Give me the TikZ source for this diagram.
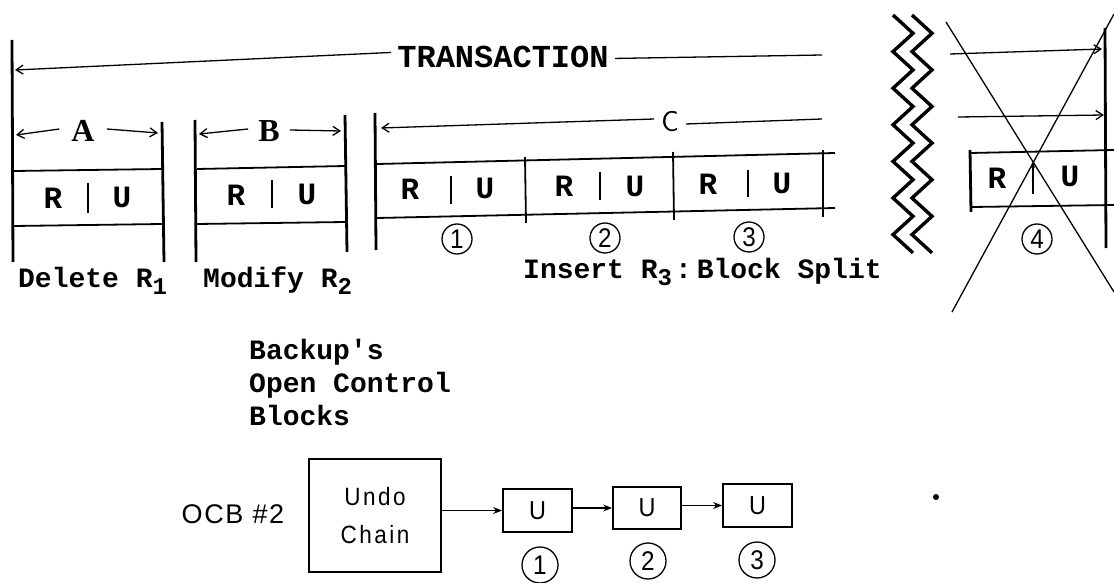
\documentclass[tikz,border=0pt]{standalone}
\usepackage{fontspec}
\setmonofont{Liberation Mono}
\newfontfamily\condfont[FakeStretch=0.9,LetterSpace=10]{Liberation Sans}
\newfontfamily\cnfont[FakeStretch=0.9]{Liberation Sans}
\newfontfamily\ocbfont[LetterSpace=6]{Liberation Sans}
\newfontfamily\serifA{Liberation Serif}
\usetikzlibrary{arrows.meta,shapes.geometric}
\newcommand{\sbs}[1]{\raisebox{-7pt}{\fontsize{24}{24}\selectfont #1}}
\tikzset{
  heavy/.style={line width=2.8pt},
  thinl/.style={line width=1.3pt},
  boxl/.style={line width=1.8pt},
  barb/.style={thinl,-{Straight Barb[length=7pt,width=9pt]}},
  tt/.style={font=\fontsize{28}{32}\selectfont\ttfamily\bfseries, inner sep=0pt},
  big/.style={font=\fontsize{32}{34}\selectfont\serifA\bfseries, inner ysep=2pt, inner xsep=12pt},
  ru/.style={font=\fontsize{31}{32}\selectfont\ttfamily\bfseries, inner sep=0pt},
  num/.style={circle, draw, thinl, minimum size=30pt, inner sep=0pt, font=\fontsize{27}{27}\selectfont\cnfont},
  cnum/.style={circle, draw, thinl, minimum size=36pt, inner sep=0pt, font=\fontsize{27}{27}\selectfont\cnfont},
  ubox/.style={draw, boxl, minimum width=69pt, minimum height=43pt, inner sep=0pt, font=\fontsize{26}{26}\selectfont\cnfont},
  chain/.style={thinl,-{Stealth[length=9pt,width=7pt]}},
  zz/.style={line width=3.4pt, line join=miter},
  bk/.style={font=\fontsize{28}{33}\selectfont\ttfamily\bfseries, anchor=base west, inner sep=0pt},
}
\begin{document}
\begin{tikzpicture}[x=1pt,y=-1pt]
\useasboundingbox (0,0) rectangle (1114,583);
% ---------- TRANSACTION ----------
\draw[heavy] (12,40) -- (13,262);
\node[tt, font=\fontsize{32}{34}\selectfont\ttfamily\bfseries, inner xsep=6pt, anchor=base] (trans) at (503,68) {TRANSACTION};
\coordinate (transL) at (15,70);
\coordinate (transR) at (822,55);
\draw[barb] ([yshift=5pt]trans.west) -- (transL);
\draw[thinl] ([yshift=-1pt]trans.east) -- (transR);
% ---------- A ----------
\node[big] (A) at (83,131) {A};
\coordinate (AL) at (16,135);
\coordinate (AR) at (158,133);
\draw[barb] ([yshift=2pt]A.west) -- (AL);
\draw[barb] ([yshift=2pt]A.east) -- (AR);
\draw[heavy] (162,122) -- (164,262);
\draw[boxl] (14,171) -- (162,169);
\draw[boxl] (14,226) -- (162,224);
\node[ru] (AR1) at (53,198) {R};
\node[ru] (AU1) at (122,197) {U};
\draw[boxl] (88,183) -- (88,213);
\node[tt,anchor=base west] (del) at (18,287) {Delete R\sbs{1}};
% ---------- B ----------
\draw[heavy] (195,120) -- (196,262);
\draw[heavy] (345,115) -- (347,252);
\node[big, inner xsep=10pt] (B) at (269,131) {B};
\coordinate (BL) at (199,134);
\coordinate (BR) at (341,131);
\draw[barb] ([yshift=2pt]B.west) -- (BL);
\draw[barb] ([yshift=1pt]B.east) -- (BR);
\draw[boxl] (197,169) -- (345,166);
\draw[boxl] (197,224) -- (345,222);
\node[ru] (BR1) at (236,195) {R};
\node[ru] (BU1) at (307,194) {U};
\draw[boxl] (272,180) -- (272,208);
\node[tt,anchor=base west] (mod) at (203,287) {Modify R\sbs{2}};
% ---------- C ----------
\draw[heavy] (375,113) -- (376,250);
\node[font=\fontsize{29}{30}\selectfont\sffamily, inner xsep=7pt, inner ysep=0pt] (C) at (670,122) {C};
\coordinate (CL) at (381,128);
\coordinate (CR) at (822,119);
\draw[barb] ([yshift=3pt]C.west) -- (CL);
\draw[thinl] ([yshift=-2pt]C.east) -- (CR);
\draw[boxl] (377,164) -- (835,153);
\draw[boxl] (377,218) -- (835,208);
\draw[boxl] (525,157) -- (526,223);
\draw[boxl] (673,152) -- (674,220);
\draw[heavy] (823,150) -- (823,217);
\node[ru] (CR1) at (410,189) {R};
\draw[boxl] (451,176) -- (451,204);
\node[ru] (CU1) at (485,188) {U};
\node[ru] (CR2) at (564,186) {R};
\draw[boxl] (600,172) -- (600,200);
\node[ru] (CU2) at (635,186) {U};
\node[ru] (CR3) at (708,184) {R};
\draw[boxl] (748,170) -- (748,197);
\node[ru] (CU3) at (782,183) {U};
\node[num] (c1) at (457,239) {1};
\node[num] (c2) at (605,238) {2};
\node[num] (c3) at (749,237) {3};
\node[tt,anchor=base west] (ins) at (523,278) {Insert R\sbs{3}\kern3pt:\kern5pt Block Split};
% ---------- zigzags ----------
\draw[zz] (893,15) \foreach \i in {1,...,13} { -- ({893+20*mod(\i,2)},{15+18.3*\i}) };
\draw[zz] (912,15) \foreach \i in {1,...,13} { -- ({912+20*mod(\i,2)},{15+18.3*\i}) };
% ---------- crossed-out part ----------
\draw[heavy] (1105,28) -- (1106,248);
\coordinate (h1a) at (950,54);
\coordinate (h1b) at (1102,49);
\coordinate (h2a) at (958,117);
\coordinate (h2b) at (1104,115);
\draw[barb] (h1a) -- (h1b);
\draw[barb] (h2a) -- (h2b);
\draw[heavy] (970,150) -- (971,212);
\draw[boxl] (970,153) -- (1114,150);
\draw[boxl] (972,207) -- (1114,205);
\node[ru] (XR) at (997,178) {R};
\node[ru] (XU) at (1070,176) {U};
\coordinate (upa) at (1033,194);
\coordinate (upb) at (1033,162);
\draw[thinl,-{Stealth[length=6pt,width=4pt]}] (upa) -- (upb);
\node[num] (c4) at (1037,239) {4};
\coordinate (x1a) at (946,22);
\coordinate (x1b) at (1114,292);
\coordinate (x2a) at (952,312);
\coordinate (x2b) at (1114,14);
\draw[thinl] (x1a) -- (x1b);
\draw[thinl] (x2a) -- (x2b);
% ---------- Backup's Open Control Blocks ----------
\node[bk] (bk1) at (249,359) {Backup's};
\node[bk] (bk2) at (249,392) {Open Control};
\node[bk] (bk3) at (249,425) {Blocks};
% ---------- OCB chain ----------
\node[font=\fontsize{27}{27}\selectfont\ocbfont, inner sep=0pt] (ocb) at (233,514) {OCB \#2};
\node[draw, boxl, minimum width=132pt, minimum height=113pt, inner sep=0pt, align=center, font=\fontsize{25}{38}\selectfont\condfont] (undo) at (375,515.5) {Undo\\Chain};
\node[ubox] (u1) at (537.5,510.5) {U};
\node[ubox, minimum width=68pt, minimum height=42pt] (u2) at (647,508) {U};
\node[ubox] (u3) at (757.5,505.5) {U};
\draw[chain] (undo.east |- u1.west) -- (u1.west);
\draw[chain] (u1.east |- u2.west) -- (u2.west);
\draw[chain] (u2.east |- u3.west) -- (u3.west);
\node[cnum] (d1) at (540,565) {1};
\node[cnum] (d2) at (648,561) {2};
\node[cnum] (d3) at (757,560) {3};
\fill (936,497) circle (3pt);
\end{tikzpicture}
\end{document}
